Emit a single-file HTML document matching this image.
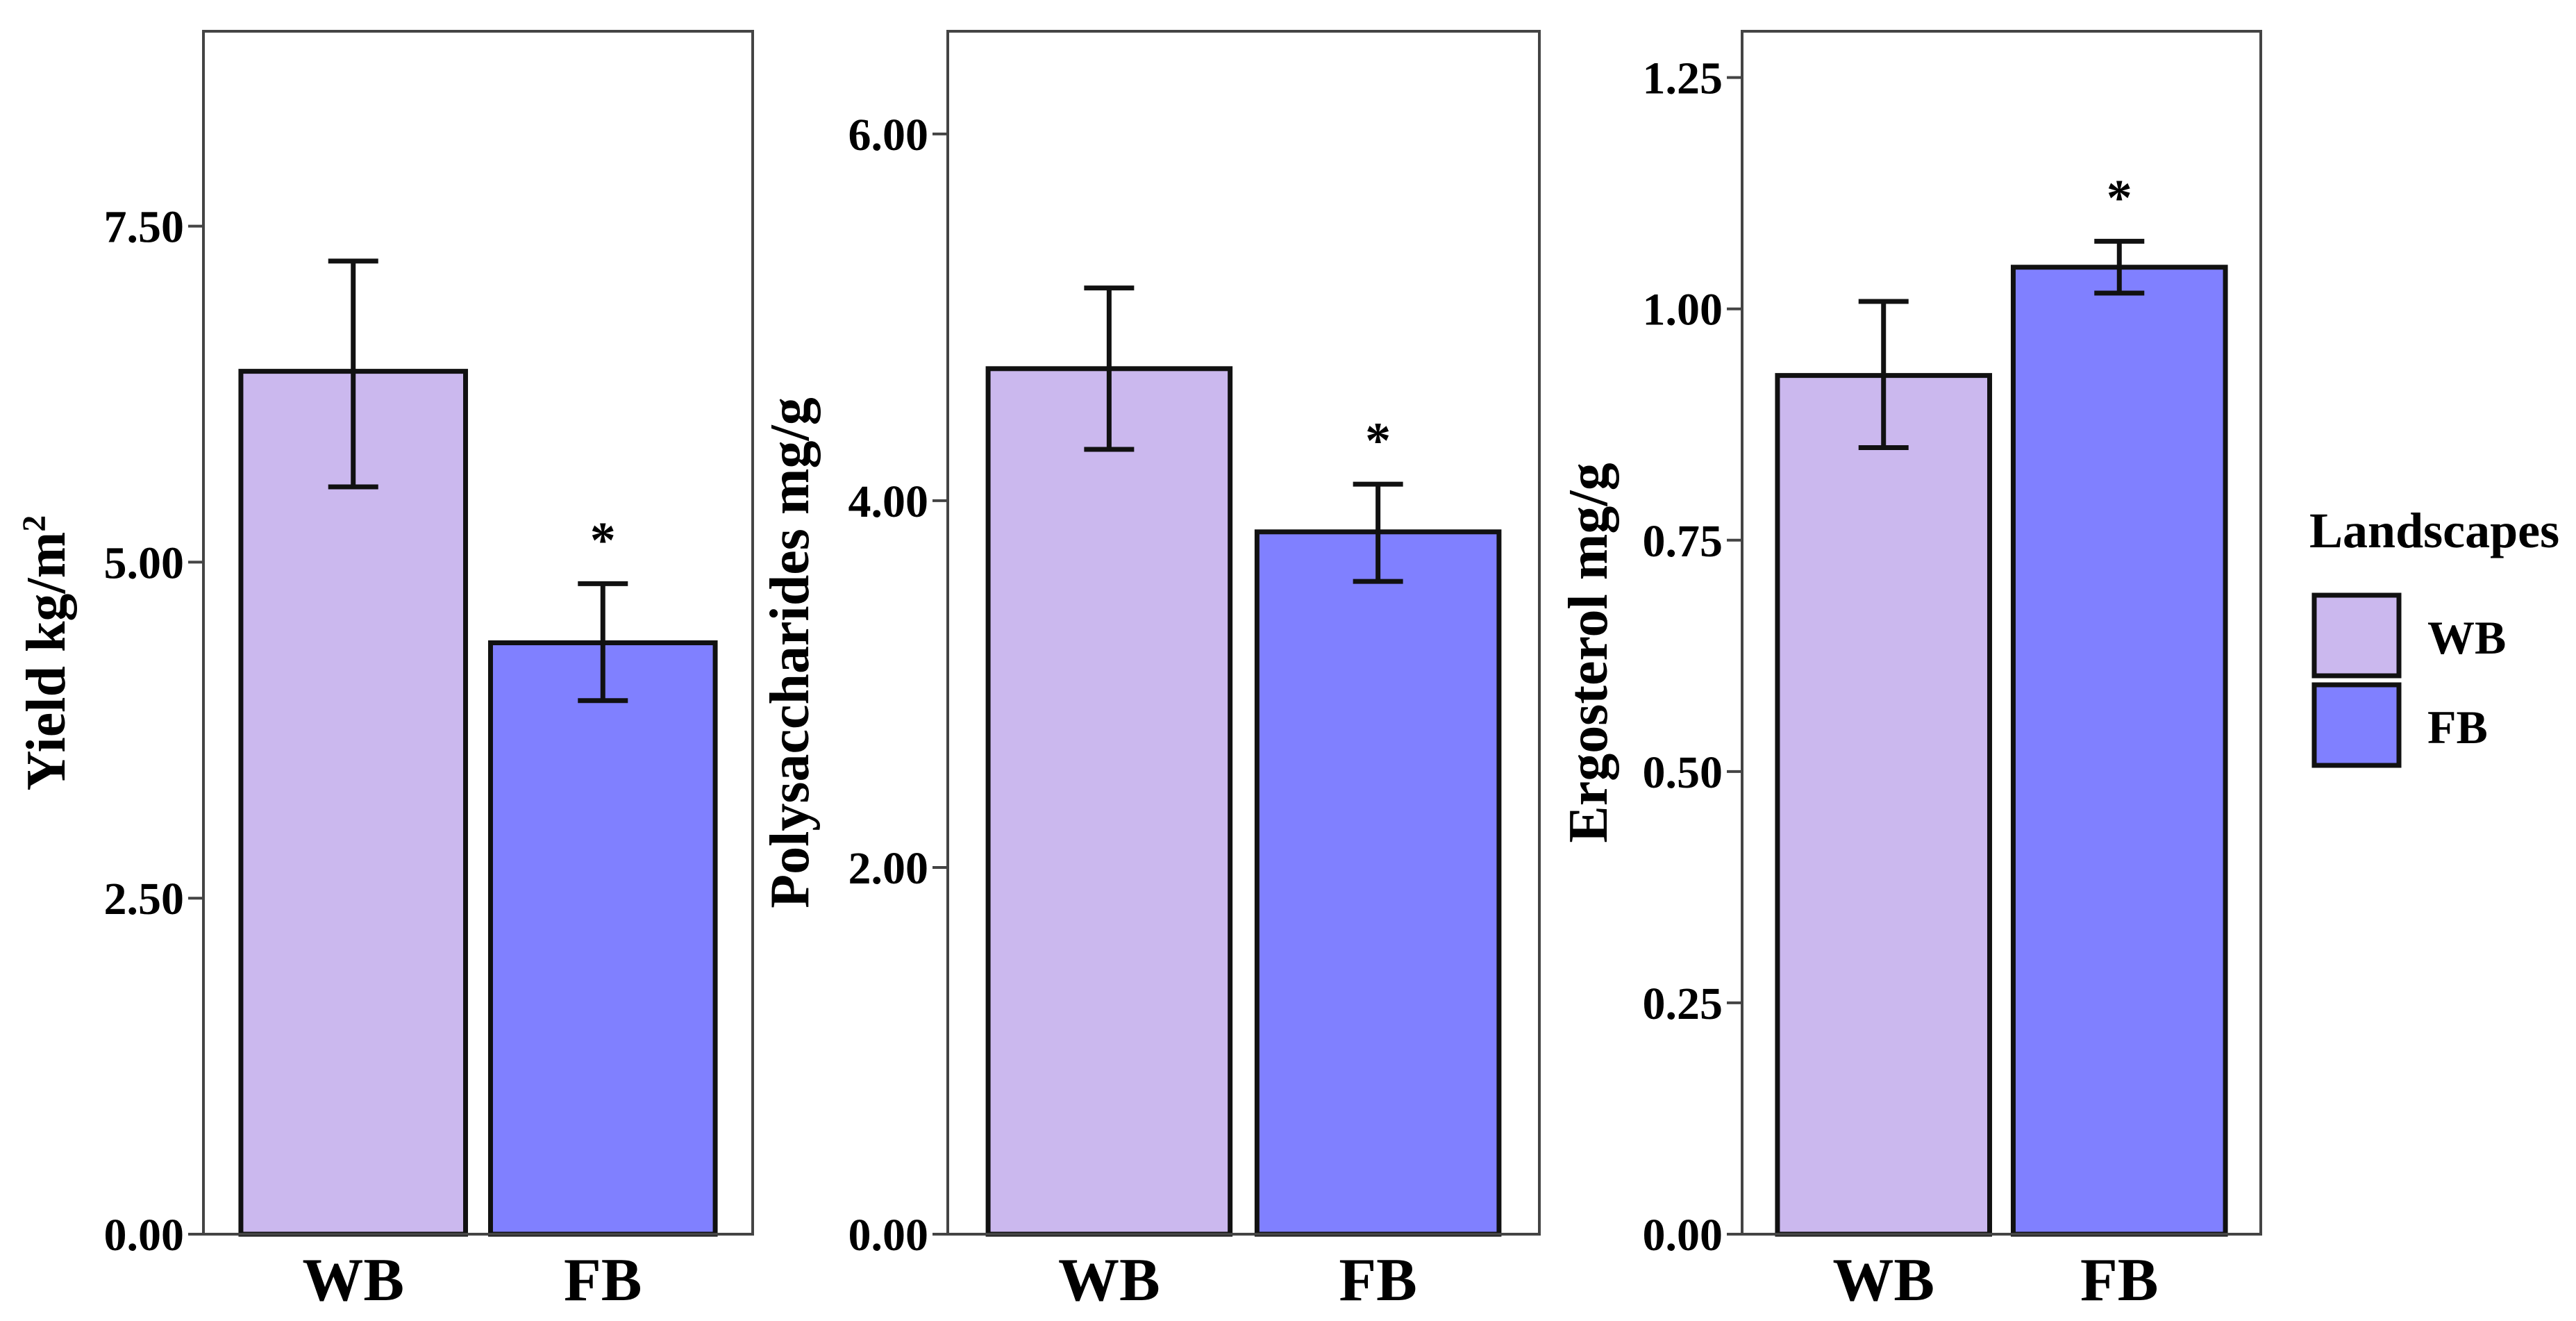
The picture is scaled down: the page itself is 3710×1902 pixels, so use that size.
<!DOCTYPE html>
<html><head><meta charset="utf-8"><style>
html,body{margin:0;padding:0;background:#fff;}
svg{display:block;font-family:"Liberation Serif",serif;font-weight:bold;}
</style></head><body>
<svg id="chart" width="3710" height="1902" viewBox="0 0 3710 1902" xmlns="http://www.w3.org/2000/svg"></svg>
<script>
const categories = ["WB", "FB"];
const yieldMeans = [6.42, 4.40];
const yieldErrHigh = [7.24, 4.84];
const yieldErrLow = [5.56, 3.97];
const polyMeans = [4.72, 3.83];
const polyErrHigh = [5.16, 4.09];
const polyErrLow = [4.28, 3.56];
const ergoMeans = [0.928, 1.045];
const ergoErrHigh = [1.008, 1.073];
const ergoErrLow = [0.85, 1.017];
const yieldTicks = [0, 2.5, 5, 7.5];
const polyTicks = [0, 2, 4, 6];
const ergoTicks = [0, 0.25, 0.5, 0.75, 1.0, 1.25];
const significant = [false, true];
const sigErgo = [false, true];

const NS = "http://www.w3.org/2000/svg";
const svgEl = document.getElementById('chart');
const colors = ["#cbb8ee", "#8080ff"];
function mk(tag, attrs, parent) {
  const e = document.createElementNS(NS, tag);
  for (const k in attrs) e.setAttribute(k, attrs[k]);
  (parent || svgEl).appendChild(e);
  return e;
}
const plotTop = 45, plotBottom = 1777;
const panels = [
  {name:'yield', x0:293, x1:1084, ymax:8.95, means:yieldMeans, hi:yieldErrHigh, lo:yieldErrLow, ticks:yieldTicks, sig:significant, title:'Yield kg/m', sup:true, titleX:67},
  {name:'polysaccharides', x0:1365, x1:2217, ymax:6.56, means:polyMeans, hi:polyErrHigh, lo:polyErrLow, ticks:polyTicks, sig:significant, title:'Polysaccharides mg/g', sup:false, titleX:1138},
  {name:'ergosterol', x0:2509, x1:3256, ymax:1.30, means:ergoMeans, hi:ergoErrHigh, lo:ergoErrLow, ticks:ergoTicks, sig:sigErgo, title:'Ergosterol mg/g', sup:false, titleX:2288}
];
panels.forEach(p => {
  const g = mk('g', {});
  
  
  const y = v => plotBottom - v / p.ymax * (plotBottom - plotTop);
  const unit = (p.x1 - p.x0) / 2.2;
  const x = c => p.x0 + (c + 1 - 0.4) * unit;
  categories.forEach((c, i) => {
    const bx = x(i) - 0.45 * unit, bw = 0.9 * unit;
    const r = mk('rect', {x:bx, y:y(p.means[i]), width:bw, height:plotBottom - y(p.means[i]), fill:colors[i], stroke:'#111', 'stroke-width':7}, g);
    
    
    const cx = x(i), cw = 36;
    const eb = mk('path', {d:`M${cx-cw},${y(p.hi[i])}H${cx+cw}M${cx},${y(p.hi[i])}V${y(p.lo[i])}M${cx-cw},${y(p.lo[i])}H${cx+cw}`, stroke:'#111', 'stroke-width':7, fill:'none'}, g);
    
    
    if (p.sig[i]) {
      const s = mk('text', {x:cx, y:y(p.hi[i]) - 38, 'text-anchor':'middle', 'font-size':74}, g);
      s.textContent = '*';
      
      
    }
    const xl = mk('text', {x:cx, y:1872, 'text-anchor':'middle', 'font-size':88}, g);
    xl.textContent = c;
    
    
  });
  const f = mk('rect', {x:p.x0, y:plotTop, width:p.x1 - p.x0, height:plotBottom - plotTop, fill:'none', stroke:'#444', 'stroke-width':4}, g);
  
  
  p.ticks.forEach(t => {
    const tl = mk('line', {x1:p.x0 - 22, x2:p.x0, y1:y(t), y2:y(t), stroke:'#444', 'stroke-width':4}, g);
    
    
    const tx = mk('text', {x:p.x0 - 28, y:y(t) + 23, 'text-anchor':'end', 'font-size':66}, g);
    tx.textContent = t.toFixed(2);
    
    
  });
  const cy = 940;
  const tt = mk('text', {x:p.titleX + 26, y:cy, 'text-anchor':'middle', 'font-size':80, transform:`rotate(-90 ${p.titleX + 26} ${cy})`}, g);
  tt.textContent = p.title;
  if (p.sup) { const ts = mk('tspan', {'font-size':48, dy:-28}, tt); ts.textContent = '2'; }
  
  
});
const lg = mk('g', {});


const lt = mk('text', {x:3326, y:788, 'font-size':72}, lg);
lt.textContent = 'Landscapes';


categories.forEach((c, i) => {
  const ky = 857 + i * 129;
  const k = mk('rect', {x:3333, y:ky, width:122, height:116, fill:colors[i], stroke:'#111', 'stroke-width':7}, lg);
  
  
  const t = mk('text', {x:3496, y:ky + 84, 'font-size':68}, lg);
  t.textContent = c;
  
  
});
</script>
</body></html>
